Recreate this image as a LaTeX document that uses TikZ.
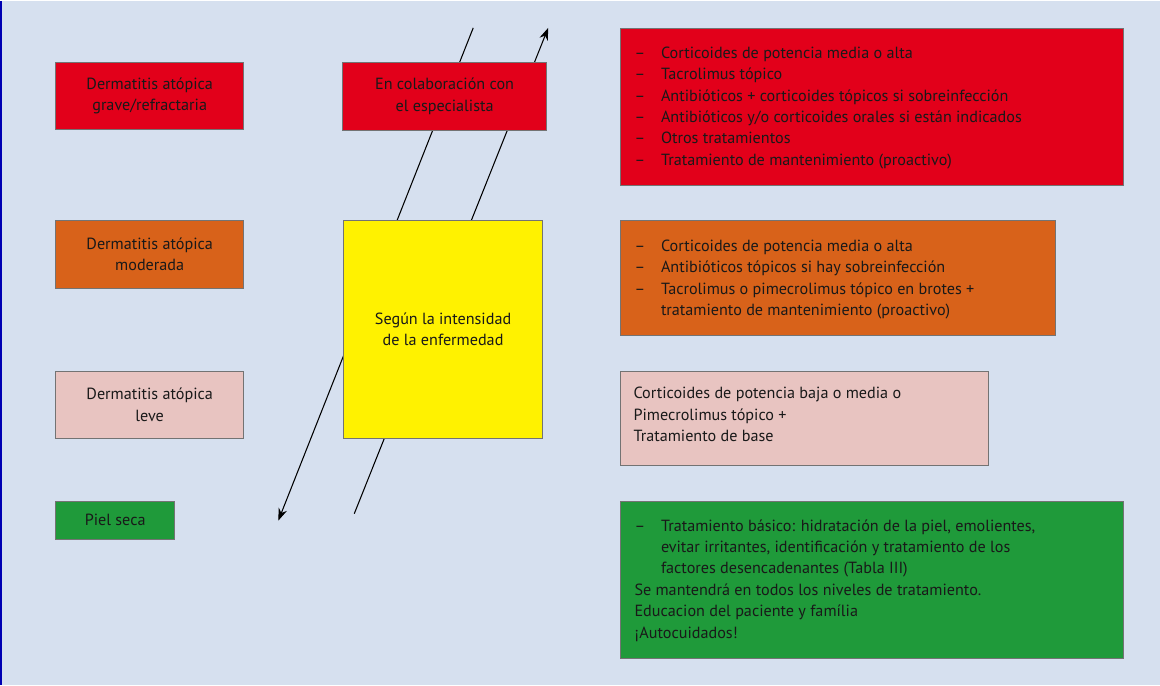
\documentclass[tikz,border=0pt]{standalone}
\usepackage{fontspec}
\setmainfont{PT Sans}
\usetikzlibrary{arrows.meta}
\definecolor{bg}{HTML}{D6E0EF}
\definecolor{rd}{HTML}{E2001A}
\definecolor{og}{HTML}{D8621A}
\definecolor{pk}{HTML}{E8C4C1}
\definecolor{gr}{HTML}{1F9A3A}
\definecolor{yl}{HTML}{FFF200}
\begin{document}
\begin{tikzpicture}[x=0.02cm,y=-0.02cm,
 box/.style={draw=black!55,line width=0.4pt,inner sep=0pt},
 lab/.style={font=\fontsize{9.2}{12.2}\selectfont,align=center,text=black!90},
 rl/.style={font=\fontsize{9.2}{12.2}\selectfont,align=left,anchor=north west,inner sep=0pt,text=black!90},
 arr/.style={line width=0.6pt,-{Stealth[length=7pt,width=5pt]}}]
\fill[bg] (0,0) rectangle (1160,684);
\draw[blue!70!black,line width=1pt] (0.5,0) -- (0.5,684);
\useasboundingbox (0,0) rectangle (1160,684);
% arrows (behind boxes)
\coordinate (a1) at (473,27); \coordinate (b1) at (278,520);
\coordinate (a2) at (354,513); \coordinate (b2) at (548,27);
\draw[arr] (a1) -- (b1);
\draw[arr] (a2) -- (b2);
% left boxes
\node[box,fill=rd,minimum width=188*0.02cm,minimum height=67*0.02cm,anchor=north west] (g) at (55,61) {};
\node[lab] at (g.center) {Dermatitis atópica\\grave/refractaria};
\node[box,fill=rd,minimum width=204*0.02cm,minimum height=68*0.02cm,anchor=north west] (c) at (342,61) {};
\node[lab] at (c.center) {En colaboración con\\el especialista};
\node[box,fill=og,minimum width=188*0.02cm,minimum height=68*0.02cm,anchor=north west] (m) at (55,219) {};
\node[lab] at (m.center) {Dermatitis atópica\\moderada};
\node[box,fill=pk,minimum width=188*0.02cm,minimum height=67*0.02cm,anchor=north west] (l) at (55,370) {};
\node[lab] at (l.center) {Dermatitis atópica\\leve};
\node[box,fill=gr,minimum width=119*0.02cm,minimum height=38*0.02cm,anchor=north west] (p) at (55,500) {};
\node[lab] at (p.center) {Piel seca};
\node[box,fill=yl,minimum width=199*0.02cm,minimum height=218*0.02cm,anchor=north west] (y) at (343,219) {};
\node[lab] at (y.center) {Según la intensidad\\de la enfermedad};
% right boxes
\node[box,fill=rd,minimum width=503*0.02cm,minimum height=157*0.02cm,anchor=north west] (R1) at (620,27) {};
\node[rl] (t1) at (634,42) {\begin{tabular}{@{}l@{\hspace{9pt}}l@{}}
–&Corticoides de potencia media o alta\\
–&Tacrolimus tópico\\
–&Antibióticos + corticoides tópicos si sobreinfección\\
–&Antibióticos y/o corticoides orales si están indicados\\
–&Otros tratamientos\\
–&Tratamiento de mantenimiento (proactivo)\end{tabular}};
\node[box,fill=og,minimum width=435*0.02cm,minimum height=115*0.02cm,anchor=north west] (R2) at (620,219) {};
\node[rl] (t2) at (634,235) {\begin{tabular}{@{}l@{\hspace{9pt}}l@{}}
–&Corticoides de potencia media o alta\\
–&Antibióticos tópicos si hay sobreinfección\\
–&Tacrolimus o pimecrolimus tópico en brotes +\\
&tratamiento de mantenimiento (proactivo)\end{tabular}};
\node[box,fill=pk,minimum width=368*0.02cm,minimum height=94*0.02cm,anchor=north west] (R3) at (620,370) {};
\node[rl] (t3) at (633,386) {Corticoides de potencia baja o media o\\Pimecrolimus tópico +\\Tratamiento de base};
\node[box,fill=gr,minimum width=503*0.02cm,minimum height=157*0.02cm,anchor=north west] (R4) at (620,500) {};
\node[rl] (t4) at (634,515) {\begin{tabular}{@{}l@{\hspace{9pt}}l@{}}
–&Tratamiento básico: hidratación de la piel, emolientes,\\
&evitar irritantes, identificación y tratamiento de los\\
&factores desencadenantes (Tabla III)\\
\multicolumn{2}{@{}l@{}}{Se mantendrá en todos los niveles de tratamiento.}\\
\multicolumn{2}{@{}l@{}}{Educacion del paciente y família}\\
\multicolumn{2}{@{}l@{}}{¡Autocuidados!}\end{tabular}};
\end{tikzpicture}
\end{document}
